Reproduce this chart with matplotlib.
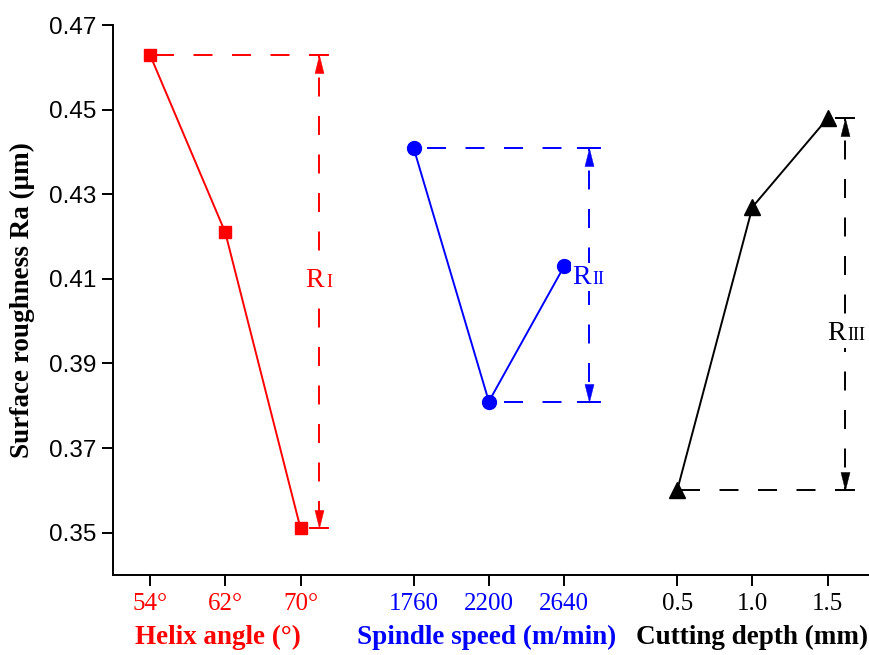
import matplotlib
matplotlib.use('Agg')
import matplotlib.pyplot as plt
from matplotlib import transforms

# ---------------- data ----------------
helix_labels = ['54°', '62°', '70°']
helix_ra = [0.463, 0.421, 0.351]
speed_labels = ['1760', '2200', '2640']
speed_ra = [0.441, 0.381, 0.413]
depth_labels = ['0.5', '1.0', '1.5']
depth_ra = [0.360, 0.427, 0.448]
y_ticks = [0.35, 0.37, 0.39, 0.41, 0.43, 0.45, 0.47]
group_titles = ['Helix angle (°)', 'Spindle speed (m/min)', 'Cutting depth (mm)']
range_names = [('R', 'I'), ('R', 'II'), ('R', 'III')]

# ---------------- styling ----------------
plt.rcParams['lines.scale_dashes'] = False
SERIF = 'Liberation Serif'
SANS = 'Liberation Sans'
PX = 0.72  # points per pixel at 100 dpi

groups = [
    dict(pos=[0, 1, 2], ra=helix_ra, labels=helix_labels, color='#FF0000', marker='s', ms=9,
         arr_dx=0.243, cap=0.12, title=group_titles[0], title_x=0.9, name=range_names[0],
         txt_y=0.4081, r_dx=3.5, s_dx=5.5),
    dict(pos=[3.5, 4.5, 5.5], ra=speed_ra, labels=speed_labels, color='#0000FF', marker='o', ms=10,
         arr_dx=0.33, cap=0.145, title=group_titles[1], title_x=4.47, name=range_names[1],
         txt_y=0.4089, r_dx=1.5, s_dx=2.5),
    dict(pos=[7, 8, 9], ra=depth_ra, labels=depth_labels, color='#000000', marker='^', ms=11,
         arr_dx=0.23, cap=0.12, title=group_titles[2], title_x=8.0, name=range_names[2],
         txt_y=0.3955, r_dx=0.5, s_dx=1.5),
]

fig = plt.figure(figsize=(8.7, 6.55), dpi=100)
ax = fig.add_axes([113 / 870, 80 / 655, 757 / 870, 550 / 655])
ax.set_xlim(-0.49, 9.56)
ax.set_ylim(0.34, 0.47)

LW = 1.4
DASH = (19 * PX, 19.5 * PX)
up_head = [(0, 0), (-0.25, -1), (0.25, -1), (0, 0)]
down_head = [(0, 0), (-0.25, 1), (0.25, 1), (0, 0)]

for g in groups:
    c = g['color']
    ax.plot(g['pos'], g['ra'], color=c, lw=LW, marker=g['marker'], ms=g['ms'], zorder=3)
    imax = max(range(3), key=lambda i: g['ra'][i])
    imin = min(range(3), key=lambda i: g['ra'][i])
    ymax, ymin = g['ra'][imax], g['ra'][imin]
    xa = g['pos'][2] + g['arr_dx']
    xcap_end = xa + g['cap']
    # horizontal dashed guides (pattern starts at the cap end)
    for i, yv in ((imax, ymax), (imin, ymin)):
        ax.plot([xcap_end, g['pos'][i]], [yv, yv], color=c, lw=LW,
                linestyle=(0, DASH), zorder=2)
        ax.plot([xa - g['cap'], xcap_end], [yv, yv], color=c, lw=LW, zorder=2)
    # vertical dashed range line
    ax.plot([xa, xa], [ymax, ymin], color=c, lw=LW,
            linestyle=(16 * PX, DASH), zorder=2)
    ax.plot([xa], [ymax], linestyle='none', marker=up_head, ms=26, color=c, mew=0.3, zorder=4)
    ax.plot([xa], [ymin], linestyle='none', marker=down_head, ms=26, color=c, mew=0.3, zorder=4)
    # range label
    ax.annotate(g['name'][0], xy=(xa, g['txt_y']), xytext=(g['r_dx'], 0),
                textcoords='offset points', ha='right', va='baseline',
                fontsize=20, family=SERIF, color=c, zorder=5,
                bbox=dict(fc='white', ec='none', pad=1.5))
    ax.annotate(g['name'][1], xy=(xa, g['txt_y']), xytext=(g['s_dx'], 0),
                textcoords='offset points', ha='left', va='baseline',
                fontsize=13, family=SERIF, color=c, zorder=5)

# ticks
all_pos = [p for g in groups for p in g['pos']]
all_lab = [l for g in groups for l in g['labels']]
all_col = [g['color'] for g in groups for _ in g['pos']]
ax.set_xticks(all_pos)
ax.set_xticklabels(all_lab, fontsize=18, family=SERIF)
for t, col in zip(ax.get_xticklabels(), all_col):
    t.set_color(col)
ax.set_yticks(y_ticks)
ax.set_yticklabels([f'{v:.2f}' for v in y_ticks], fontsize=17.5, family=SANS)
ax.tick_params(axis='both', direction='out', length=8, width=1.4)
ax.tick_params(axis='y', pad=4)
ax.tick_params(axis='x', pad=5)

for s in ('top', 'right'):
    ax.spines[s].set_visible(False)
for s in ('left', 'bottom'):
    ax.spines[s].set_linewidth(1.4)

# group titles under the x axis
trans = transforms.blended_transform_factory(ax.transData, fig.transFigure)
for g in groups:
    ax.text(g['title_x'], 1 - 644 / 655, g['title'], transform=trans, ha='center',
            va='baseline', fontsize=19.5, fontweight='bold', family=SERIF, color=g['color'])

ax.set_ylabel('Surface roughness Ra (μm)', fontsize=19.5, fontweight='bold', family=SERIF)
ax.yaxis.set_label_coords(-0.103, 0.5)

fig.savefig('out.png', dpi=100)
